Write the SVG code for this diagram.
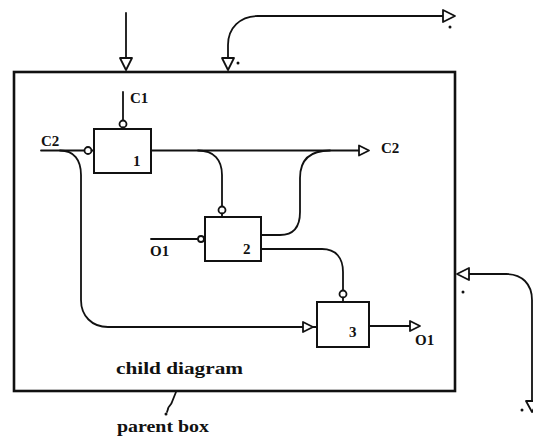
<svg xmlns="http://www.w3.org/2000/svg" width="533" height="436" viewBox="0 0 533 436">
<style>
.ln{fill:none;stroke:#111;stroke-width:1.8;stroke-linecap:round}
.bx{fill:none;stroke:#111;stroke-width:2}
.pb{fill:none;stroke:#111;stroke-width:2.6}
.tri{fill:#fff;stroke:#111;stroke-width:1.8;stroke-linejoin:round}
.cir{fill:#fff;stroke:#111;stroke-width:1.8}
.dot{fill:#111}
.t{font-family:"Liberation Serif",serif;font-weight:bold;font-size:15px;fill:#111}
.n{font-family:"Liberation Serif",serif;font-size:15px;fill:#111}
.c{font-family:"Liberation Serif",serif;font-weight:bold;font-size:17px;fill:#111}
</style>
<g id="parent">
<rect class="pb" x="14" y="72" width="441" height="319"/>
</g>
<g id="box1">
<rect class="bx" x="94" y="129" width="57" height="44"/>
<text class="t" x="133" y="166">1</text>
</g>
<g id="box2">
<rect class="bx" x="205" y="217" width="56" height="44"/>
<text class="t" x="243" y="254">2</text>
</g>
<g id="box3">
<rect class="bx" x="317" y="302" width="52" height="45"/>
<text class="t" x="349" y="337">3</text>
</g>
<g id="connectors">
<!-- top arrow 1 -->
<path class="ln" d="M126,13 L126,58"/>
<polygon class="tri" points="120,58 132,58 126,70"/>
<!-- top arrow 2 -->
<path class="ln" d="M228,57 L228,45 C228,28 240,16 258,16 L443,16"/>
<polygon class="tri" points="222,58 234,58 228,70"/>
<polygon class="tri" points="443,10 443,22 455,16"/>
<circle class="dot" cx="238" cy="63" r="1.5"/>
<circle class="dot" cx="450" cy="27" r="1.5"/>
<!-- right side arrow -->
<path class="ln" d="M532,400 L532,300 C532,284 522,274 506,274 L469,274"/>
<polygon class="tri" points="469,268 469,280 457,274"/>
<polygon class="tri" points="526,401 538,401 532,412"/>
<circle class="dot" cx="463" cy="292" r="1.5"/>
<circle class="dot" cx="522" cy="410" r="1.5"/>
<!-- C1 -->
<path class="ln" d="M123,92 L123,120"/>
<circle class="cir" cx="123" cy="124" r="3.5"/>
<path class="ln" d="M123,127.5 L123,129"/>
<text class="t" x="130" y="103">C1</text>
<!-- C2 in -->
<path class="ln" d="M41,150.5 L84,150.5"/>
<circle class="cir" cx="88" cy="150.5" r="3.5"/>
<path class="ln" d="M91.5,150.5 L94,150.5"/>
<text class="t" x="41" y="146">C2</text>
<!-- C2 branch to box3 -->
<path class="ln" d="M60,150.5 C74,150.5 81,160 81,175 L81,300 C81,316 92,327 108,327 L303,327"/>
<polygon class="tri" points="303,322 303,332 313,327"/>
<path class="ln" d="M313,327 L317,327"/>
<!-- box1 output C2 -->
<path class="ln" d="M151,150.5 L359,150.5"/>
<polygon class="tri" points="359,145.5 359,155.5 369,150.5"/>
<text class="t" x="381" y="153">C2</text>
<!-- branch to box2 -->
<path class="ln" d="M198,150.5 C214,150.5 222,160 222,175 L222,206"/>
<circle class="cir" cx="222" cy="210" r="3.5"/>
<path class="ln" d="M222,213.5 L222,217"/>
<!-- box2 output up to C2 -->
<path class="ln" d="M261,235 L280,235 C294,235 300,226 300,212 L300,178 C300,161 309,150.5 330,150.5"/>
<!-- O1 input -->
<path class="ln" d="M151,239 L198,239"/>
<circle class="cir" cx="201" cy="239" r="3"/>
<text class="t" x="150" y="256">O1</text>
<!-- box2 output down to box3 -->
<path class="ln" d="M261,249 L322,249 C336,249 343,258 343,272 L343,290"/>
<circle class="cir" cx="343" cy="294" r="3.5"/>
<path class="ln" d="M343,297.5 L343,302"/>
<!-- box3 output -->
<path class="ln" d="M369,326 L410,326"/>
<polygon class="tri" points="410,321 410,331 420,326"/>
<text class="t" x="415" y="345">O1</text>
<!-- parent box pointer -->
<path class="ln" d="M176,392 L172,402 C171,406 168,406 168,409 L167,412"/>
<circle class="dot" cx="166" cy="414" r="1.5"/>
</g>
<text class="c" x="116" y="374" textLength="127" lengthAdjust="spacingAndGlyphs">child diagram</text>
<text class="c" x="117" y="432" textLength="92" lengthAdjust="spacingAndGlyphs">parent box</text>
</svg>
